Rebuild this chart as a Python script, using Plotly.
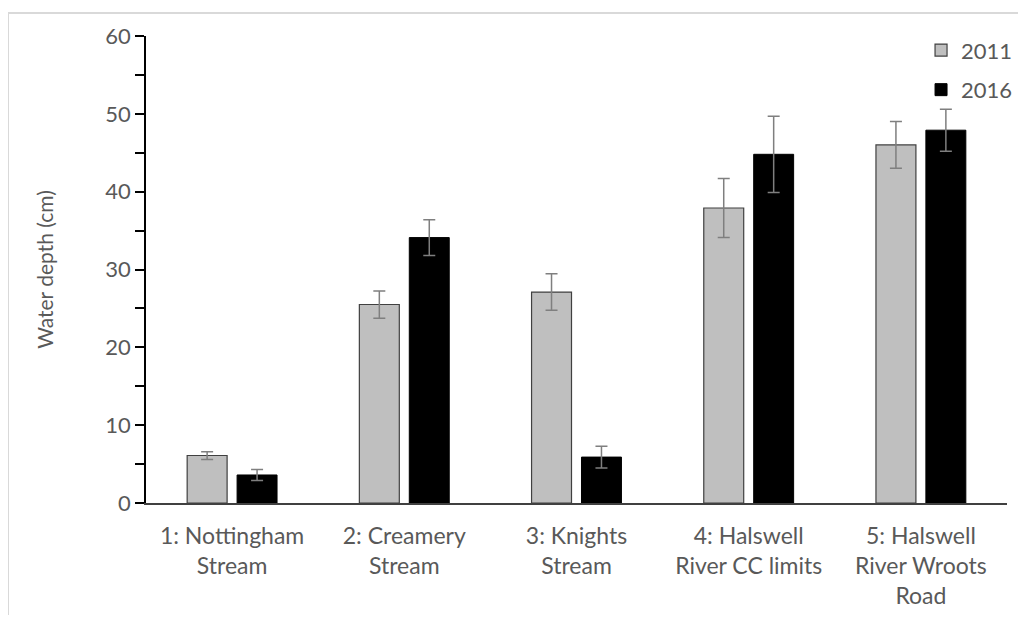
import plotly.graph_objects as go

categories = ["1: Nottingham<br>Stream", "2: Creamery<br>Stream", "3: Knights<br>Stream",
              "4: Halswell<br>River CC limits", "5: Halswell<br>River Wroots<br>Road"]
depth_2011 = [6.1, 25.5, 27.1, 37.9, 46.0]
err_2011 = [0.5, 1.75, 2.35, 3.8, 3.0]
depth_2016 = [3.6, 34.1, 5.9, 44.8, 47.9]
err_2016 = [0.7, 2.3, 1.4, 4.9, 2.7]
y_tickvals = [0, 10, 20, 30, 40, 50, 60]
y_ticktext = ["0", "10", "20", "30", "40", "50", "60"]

FONT = "Lato, 'Open Sans', sans-serif"
TXT = "#595959"

fig = go.Figure()
fig.add_trace(go.Bar(
    name="2011", x=categories, y=depth_2011, legendgroup="a",
    marker=dict(color="#bfbfbf", line=dict(color="#404040", width=1.2)),
    error_y=dict(type="data", array=err_2011, color="#7f7f7f", thickness=1.5, width=6),
))
fig.add_trace(go.Bar(
    name="2016", x=categories, y=depth_2016, legendgroup="b",
    marker=dict(color="#000000", line=dict(color="#000000", width=1)),
    error_y=dict(type="data", array=err_2016, color="#7f7f7f", thickness=1.5, width=6),
))

fig.update_layout(
    width=1010, height=607,
    margin=dict(l=138, r=11, t=28, b=112, autoexpand=False),
    paper_bgcolor="white", plot_bgcolor="white",
    barmode="group", bargap=0.42, bargroupgap=0.2,
    font=dict(family=FONT, size=22, color=TXT),
    legend=dict(xref="container", yref="container", x=0.904, y=0.965,
                xanchor="left", yanchor="top",
                font=dict(family=FONT, size=22, color=TXT),
                traceorder="grouped", tracegroupgap=8,
                bgcolor="rgba(0,0,0,0)", itemwidth=30),
    showlegend=True,
    shapes=[dict(type="rect", xref="paper", yref="paper",
                 x0=-0.1603, x1=1.04, y0=-0.35, y1=1.0493,
                 line=dict(color="#d9d9d9", width=2), fillcolor="rgba(0,0,0,0)",
                 layer="below")],
)
fig.update_xaxes(
    showline=True, linecolor="#404040", linewidth=1.5, automargin=False,
    ticks="", showgrid=False, ticklabelstandoff=12,
    tickfont=dict(family=FONT, size=23, color=TXT),
)
fig.update_yaxes(
    range=[0, 60], tickvals=y_tickvals, ticktext=y_ticktext,
    showline=True, linecolor="#000000", linewidth=1.5,
    ticks="outside", ticklen=9, tickcolor="#000000", tickwidth=1.5,
    minor=dict(tickvals=[5, 15, 25, 35, 45, 55], ticks="outside", ticklen=9,
               tickcolor="#000000", tickwidth=1.5, showgrid=False),
    showgrid=False, zeroline=False,
    tickfont=dict(family=FONT, size=22, color=TXT),
    title=dict(text="Water depth (cm)", font=dict(family=FONT, size=21, color=TXT), standoff=46),
)

fig.write_html("out.html")
